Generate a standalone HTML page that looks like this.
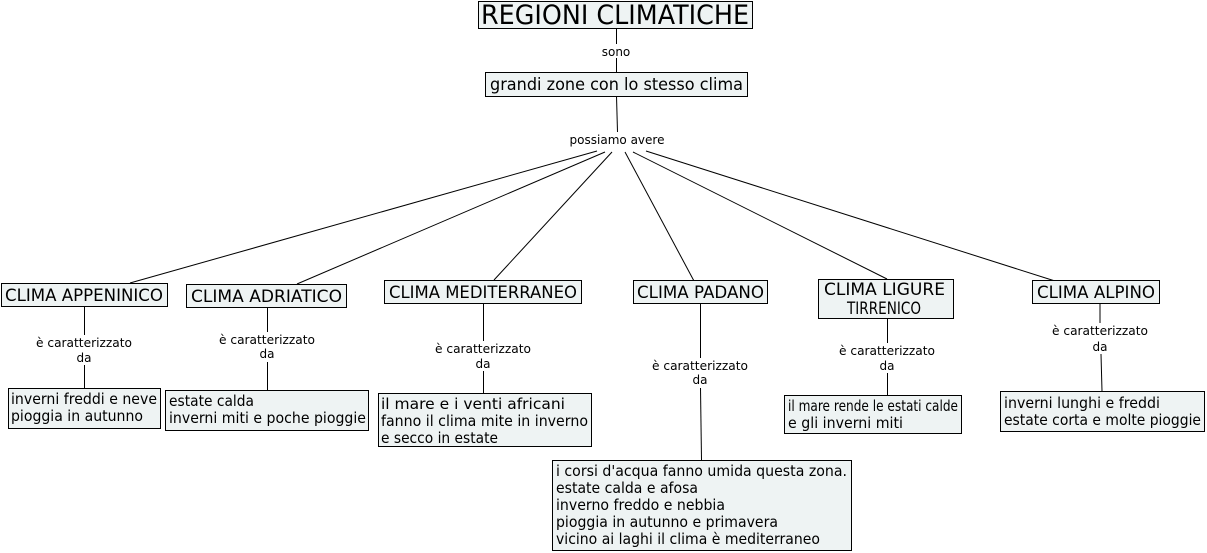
<!DOCTYPE html>
<html><head><meta charset="utf-8"><style>
html,body{margin:0;padding:0;background:#fff;}
svg{display:block;}
text{font-family:"DejaVu Sans","Liberation Sans",sans-serif;fill:#000;}
.b{fill:#eef3f3;stroke:#000;stroke-width:1;}
.l{stroke:#000;stroke-width:1;fill:none;}
.s{font-size:12px;}
.m{font-size:17px;}
.t{font-size:15px;}
</style></head><body>
<svg width="1207" height="553" viewBox="0 0 1207 553" xmlns="http://www.w3.org/2000/svg">
<g class="l">
<line x1="616.5" y1="28" x2="616.5" y2="44"/>
<line x1="616.5" y1="58" x2="616.5" y2="72"/>
<line x1="616.5" y1="96" x2="617.5" y2="132"/>
<line x1="597" y1="151" x2="130" y2="283"/>
<line x1="605" y1="152" x2="297" y2="284"/>
<line x1="612" y1="152" x2="494" y2="280"/>
<line x1="625" y1="152" x2="694" y2="281"/>
<line x1="633" y1="152" x2="887" y2="279"/>
<line x1="646" y1="151" x2="1055" y2="281"/>
<line x1="84.5" y1="306" x2="84.5" y2="335"/>
<line x1="84.5" y1="365" x2="84.5" y2="388"/>
<line x1="267.5" y1="307" x2="267.5" y2="332"/>
<line x1="267.5" y1="362" x2="267.5" y2="390"/>
<line x1="483.5" y1="303" x2="483.5" y2="341"/>
<line x1="483.5" y1="371" x2="483.5" y2="393"/>
<line x1="700.5" y1="303" x2="700.5" y2="358"/>
<line x1="700.5" y1="388" x2="701.5" y2="460"/>
<line x1="887.5" y1="318" x2="887.5" y2="343"/>
<line x1="887.5" y1="373" x2="887.5" y2="395"/>
<line x1="1100" y1="303" x2="1100" y2="323"/>
<line x1="1101" y1="354" x2="1102" y2="391"/>
</g>
<rect class="b" x="478.5" y="1.5" width="274" height="27"/>
<text x="615" y="24" font-size="27" text-anchor="middle" textLength="268" lengthAdjust="spacingAndGlyphs">REGIONI CLIMATICHE</text>
<text class="s" x="616" y="56" text-anchor="middle">sono</text>
<rect class="b" x="485.5" y="72.5" width="262" height="24"/>
<text class="m" x="490" y="90" textLength="253" lengthAdjust="spacingAndGlyphs">grandi zone con lo stesso clima</text>
<text class="s" x="617" y="144" text-anchor="middle" textLength="95" lengthAdjust="spacingAndGlyphs">possiamo avere</text>

<rect class="b" x="1.5" y="283.5" width="166" height="23"/>
<text class="m" x="5" y="301" textLength="158" lengthAdjust="spacingAndGlyphs">CLIMA APPENINICO</text>
<rect class="b" x="186.5" y="284.5" width="160" height="23"/>
<text class="m" x="191" y="302" textLength="151" lengthAdjust="spacingAndGlyphs">CLIMA ADRIATICO</text>
<rect class="b" x="384.5" y="280.5" width="197" height="23"/>
<text class="m" x="389" y="298" textLength="188" lengthAdjust="spacingAndGlyphs">CLIMA MEDITERRANEO</text>
<rect class="b" x="633.5" y="280.5" width="134" height="23"/>
<text class="m" x="637" y="298" textLength="127" lengthAdjust="spacingAndGlyphs">CLIMA PADANO</text>
<rect class="b" x="818.5" y="279.5" width="135" height="39"/>
<text class="m" x="824" y="295" textLength="121" lengthAdjust="spacingAndGlyphs">CLIMA LIGURE</text>
<text class="m" x="847" y="314" textLength="74" lengthAdjust="spacingAndGlyphs">TIRRENICO</text>
<rect class="b" x="1032.5" y="280.5" width="127" height="23"/>
<text class="m" x="1037" y="298" textLength="118" lengthAdjust="spacingAndGlyphs">CLIMA ALPINO</text>

<g class="s" text-anchor="middle">
<text x="84" y="347" textLength="96" lengthAdjust="spacingAndGlyphs">è caratterizzato</text><text x="84" y="362">da</text>
<text x="267" y="344" textLength="96" lengthAdjust="spacingAndGlyphs">è caratterizzato</text><text x="267" y="358">da</text>
<text x="483" y="353" textLength="96" lengthAdjust="spacingAndGlyphs">è caratterizzato</text><text x="483" y="368">da</text>
<text x="700" y="370" textLength="96" lengthAdjust="spacingAndGlyphs">è caratterizzato</text><text x="700" y="384">da</text>
<text x="887" y="355" textLength="96" lengthAdjust="spacingAndGlyphs">è caratterizzato</text><text x="887" y="370">da</text>
<text x="1100" y="335" textLength="96" lengthAdjust="spacingAndGlyphs">è caratterizzato</text><text x="1100" y="351">da</text>
</g>

<rect class="b" x="8.5" y="388.5" width="152" height="40"/>
<text class="t" x="11" y="404" textLength="146" lengthAdjust="spacingAndGlyphs">inverni freddi e neve</text>
<text class="t" x="11" y="421" textLength="132" lengthAdjust="spacingAndGlyphs">pioggia in autunno</text>

<rect class="b" x="165.5" y="390.5" width="203" height="40"/>
<text class="t" x="169" y="406" textLength="85" lengthAdjust="spacingAndGlyphs">estate calda</text>
<text class="t" x="169" y="423" textLength="197" lengthAdjust="spacingAndGlyphs">inverni miti e poche pioggie</text>

<rect class="b" x="378.5" y="393.5" width="213" height="53"/>
<text class="t" x="381" y="409" textLength="184" lengthAdjust="spacingAndGlyphs">il mare e i venti africani</text>
<text class="t" x="381" y="426" textLength="207" lengthAdjust="spacingAndGlyphs">fanno il clima mite in inverno</text>
<text class="t" x="381" y="443" textLength="117" lengthAdjust="spacingAndGlyphs">e secco in estate</text>

<rect class="b" x="552.5" y="460.5" width="299" height="90"/>
<text class="t" x="556" y="476" textLength="291" lengthAdjust="spacingAndGlyphs">i corsi d'acqua fanno umida questa zona.</text>
<text class="t" x="556" y="493" textLength="142" lengthAdjust="spacingAndGlyphs">estate calda e afosa</text>
<text class="t" x="556" y="510" textLength="169" lengthAdjust="spacingAndGlyphs">inverno freddo e nebbia</text>
<text class="t" x="556" y="527" textLength="222" lengthAdjust="spacingAndGlyphs">pioggia in autunno e primavera</text>
<text class="t" x="556" y="544" textLength="264" lengthAdjust="spacingAndGlyphs">vicino ai laghi il clima è mediterraneo</text>

<rect class="b" x="784.5" y="395.5" width="177" height="38"/>
<text class="t" x="788" y="411" textLength="170" lengthAdjust="spacingAndGlyphs">il mare rende le estati calde</text>
<text class="t" x="788" y="428" textLength="115" lengthAdjust="spacingAndGlyphs">e gli inverni miti</text>

<rect class="b" x="1000.5" y="391.5" width="204" height="40"/>
<text class="t" x="1004" y="408" textLength="156" lengthAdjust="spacingAndGlyphs">inverni lunghi e freddi</text>
<text class="t" x="1004" y="425" textLength="197" lengthAdjust="spacingAndGlyphs">estate corta e molte pioggie</text>
</svg>
</body></html>
